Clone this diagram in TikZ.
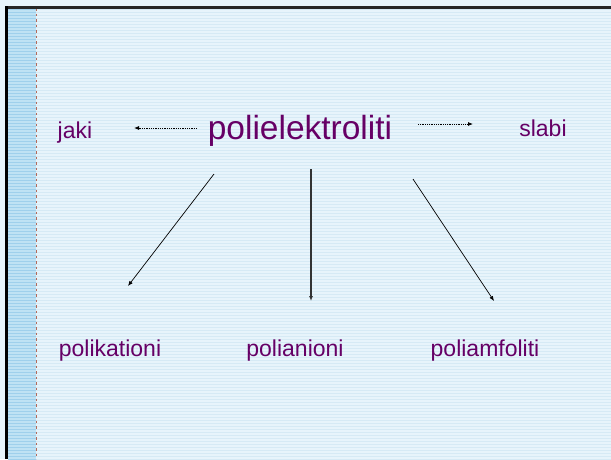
\documentclass[tikz,border=0pt]{standalone}
\usepackage{fontspec}
\setmainfont{Liberation Sans}
\usetikzlibrary{arrows.meta}
\definecolor{bgblue}{HTML}{E7F4FB}
\definecolor{bgline}{HTML}{D6EAF5}
\definecolor{bandblue}{HTML}{BFE2F4}
\definecolor{bandline}{HTML}{9FD0EC}
\definecolor{dashred}{HTML}{B46A5A}
\definecolor{txtpurple}{HTML}{660066}
\tikzset{
  lbl/.style={text=txtpurple, font=\fontsize{23}{27}\selectfont, inner sep=0pt, anchor=base},
  title/.style={text=txtpurple, font=\fontsize{33.5}{38}\selectfont, inner sep=0pt, anchor=base},
  dotarrow/.style={line width=0.8pt, dash pattern=on 1pt off 0.8pt, -{Latex[length=5pt,width=4pt]}},
  solidarrow/.style={line width=0.7pt, -{Latex[length=5pt,width=4pt]}},
}
\begin{document}
\begin{tikzpicture}[x=1pt,y=-1pt]
\useasboundingbox (0,0) rectangle (611,459);
% background
\fill[bgblue] (0,0) rectangle (611,459);
\foreach \y in {9,12,...,459} \draw[bgline, line width=0.5pt] (8,\y) -- (611,\y);
% left band
\fill[bandblue] (8,8) rectangle (36,459);
\foreach \y in {9,12,...,459} \draw[bandline, line width=0.8pt] (8,\y) -- (36,\y);
\draw[dashred, line width=0.9pt, dash pattern=on 2.5pt off 3pt] (36,8) -- (36,459);
% border
\fill[black!85] (5,6) rectangle (611,8.5);
\fill[black] (5,6) rectangle (7.5,459);
% texts
\node[title] (main) at (300,139) {polielektroliti};
\node[lbl] (jaki) at (75,138) {jaki};
\node[lbl] (slabi) at (543,136) {slabi};
\node[lbl] (kat) at (110,356) {polikationi};
\node[lbl] (an) at (295,356) {polianioni};
\node[lbl] (amf) at (485,356) {poliamfoliti};
% arrow ends
\coordinate (mL) at (197,128);
\coordinate (jE) at (134,128);
\coordinate (mR) at (418,124);
\coordinate (sW) at (473,124);
\coordinate (d1s) at (214,174);
\coordinate (d1e) at (128,286);
\coordinate (d2s) at (311,169);
\coordinate (d2e) at (311,301);
\coordinate (d3s) at (413,179);
\coordinate (d3e) at (494,301);
\draw[dotarrow] (mL) -- (jE);
\draw[dotarrow] (mR) -- (sW);
\draw[solidarrow] (d1s) -- (d1e);
\draw[solidarrow, line width=1.1pt, black!80] (d2s) -- (d2e);
\draw[solidarrow] (d3s) -- (d3e);
\end{tikzpicture}
\end{document}
